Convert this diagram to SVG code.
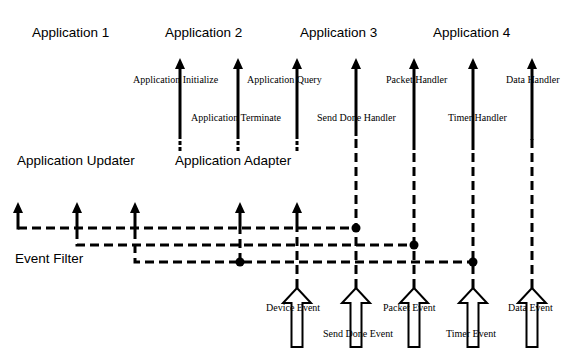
<svg xmlns="http://www.w3.org/2000/svg" width="561" height="349" viewBox="0 0 561 349">
  <style>
    .title { font-family: "Liberation Sans", Arial, sans-serif; font-size: 13.5px; fill: #000; }
    .lbl { font-family: "Liberation Serif", "Times New Roman", serif; font-size: 10px; fill: #000; }
    .solid { fill: none; stroke: #000; stroke-width: 3; }
    .dash { fill: none; stroke: #000; stroke-width: 3; stroke-dasharray: 9 5; }
    .fine { fill: none; stroke: #000; stroke-width: 3; stroke-dasharray: 4 2; }
    .dot { fill: #000; }
    .block { fill: #fff; stroke: #000; stroke-width: 2; stroke-linejoin: miter; }
  </style>
  <defs>
    <marker id="tip" viewBox="0 0 11 10" refX="0" refY="5" markerWidth="11" markerHeight="10" orient="auto" markerUnits="userSpaceOnUse">
      <path d="M0,0 L11,5 L0,10 Z" fill="#000"/>
    </marker>
    <path id="block-arrow" d="M0,0 L14,15 L5.5,15 L5.5,59 L-5.5,59 L-5.5,15 L-14,15 Z"/>
  </defs>

  <rect width="561" height="349" fill="#fff"/>

  <!-- applications -->
  <g id="app1"><text class="title" x="32" y="37">Application 1</text></g>
  <g id="app2"><text class="title" x="165" y="37">Application 2</text></g>
  <g id="app3"><text class="title" x="300" y="37">Application 3</text></g>
  <g id="app4"><text class="title" x="433" y="37">Application 4</text></g>
  <g id="app-updater"><text class="title" x="17" y="165">Application Updater</text></g>
  <g id="app-adapter"><text class="title" x="175" y="165">Application Adapter</text></g>
  <g id="event-filter"><text class="title" x="15" y="263">Event Filter</text></g>

  <!-- handler / call labels -->
  <g id="labels-upper">
    <text class="lbl" x="133" y="83">Application Initialize</text>
    <text class="lbl" x="191" y="121">Application Terminate</text>
    <text class="lbl" x="247" y="83">Application Query</text>
    <text class="lbl" x="317" y="121">Send Done Handler</text>
    <text class="lbl" x="386" y="83">Packet Handler</text>
    <text class="lbl" x="448" y="121">Timer Handler</text>
    <text class="lbl" x="506" y="83">Data Handler</text>
  </g>

  <g id="connectors">
    <!-- adapter calls up into the applications -->
    <path class="solid" d="M180,136 V69" marker-end="url(#tip)"/>
    <path class="solid" d="M238,136 V69" marker-end="url(#tip)"/>
    <path class="solid" d="M297,136 V69" marker-end="url(#tip)"/>
    <path class="fine" d="M180,151 V136"/>
    <path class="fine" d="M238,151 V136"/>
    <path class="fine" d="M297,151 V136"/>

    <!-- handler lines: event side dashed, handler side solid -->
    <path class="dash" d="M356,288 V134"/>
    <path class="solid" d="M356,136 V69" marker-end="url(#tip)"/>
    <path class="dash" d="M414,288 V148"/>
    <path class="solid" d="M414,150 V69" marker-end="url(#tip)"/>
    <path class="dash" d="M473,288 V148"/>
    <path class="solid" d="M473,150 V69" marker-end="url(#tip)"/>
    <path class="dash" d="M532,288 V138"/>
    <path class="solid" d="M532,140 V69" marker-end="url(#tip)"/>

    <!-- event filter buses -->
    <path class="dash" d="M18,228 H356"/>
    <path class="dash" d="M77,230 V245 H414"/>
    <path class="dash" d="M135,230 V262 H473"/>
    <path class="dash" d="M240,262 V230"/>
    <path class="dash" d="M297,288 V230"/>

    <!-- deliveries up to updater / adapter -->
    <path class="solid" d="M18,229.5 V213" marker-end="url(#tip)"/>
    <path class="solid" d="M77,230 V213" marker-end="url(#tip)"/>
    <path class="solid" d="M135,230 V213" marker-end="url(#tip)"/>
    <path class="solid" d="M240,230 V213" marker-end="url(#tip)"/>
    <path class="solid" d="M297,230 V213" marker-end="url(#tip)"/>

    <!-- junctions -->
    <circle class="dot" cx="356" cy="228" r="4.5"/>
    <circle class="dot" cx="414" cy="245" r="4.5"/>
    <circle class="dot" cx="473" cy="262" r="4.5"/>
    <circle class="dot" cx="240" cy="262" r="4.5"/>

    <!-- incoming events -->
    <use href="#block-arrow" class="block" x="297" y="288"/>
    <use href="#block-arrow" class="block" x="356" y="288"/>
    <use href="#block-arrow" class="block" x="414" y="288"/>
    <use href="#block-arrow" class="block" x="473" y="288"/>
    <use href="#block-arrow" class="block" x="532" y="288"/>
  </g>

  <g id="labels-events">
    <text class="lbl" x="266" y="311">Device Event</text>
    <text class="lbl" x="323" y="337">Send Done Event</text>
    <text class="lbl" x="383" y="311">Packet Event</text>
    <text class="lbl" x="446" y="337">Timer Event</text>
    <text class="lbl" x="508" y="311">Data Event</text>
  </g>
</svg>
